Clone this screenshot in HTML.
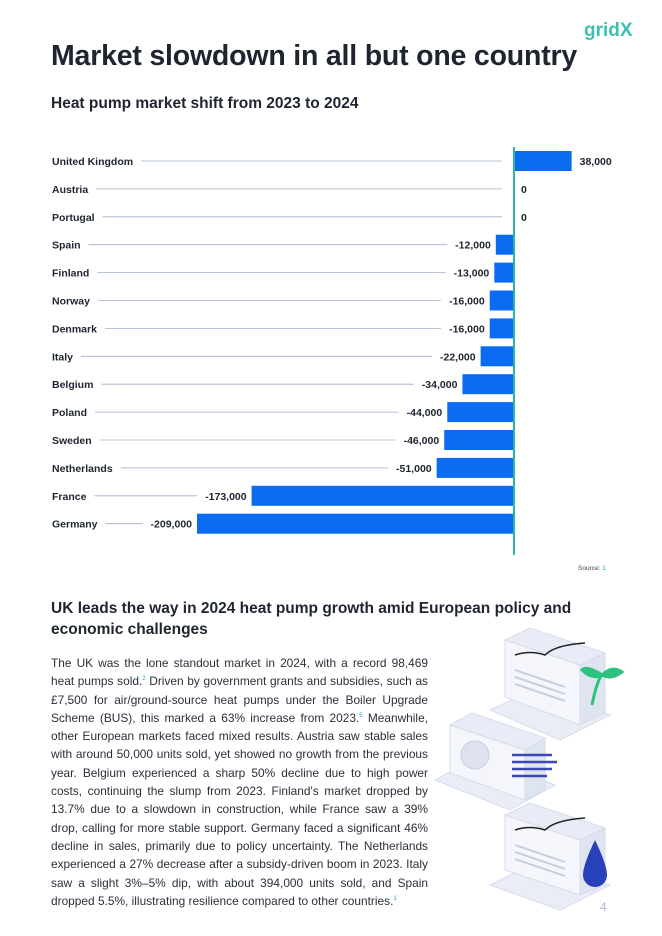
<!DOCTYPE html>
<html><head><meta charset="utf-8">
<style>
body{margin:0;background:#fff;font-family:"Liberation Sans",sans-serif;color:#1e2430}
#page{position:relative;width:662px;height:936px;overflow:hidden;background:#fff}
.logo{position:absolute;left:584px;top:20px;font-size:19px;font-weight:bold;color:#3cc0b0}
h1{position:absolute;left:51px;top:40px;margin:0;font-size:28.5px;font-weight:bold;color:#1e2430;letter-spacing:-0.2px}
h2{position:absolute;left:51px;top:95px;margin:0;font-size:15.5px;font-weight:bold}
h3{position:absolute;left:51px;top:598px;margin:0;font-size:15.5px;font-weight:bold;line-height:21px;width:560px}
.src{position:absolute;left:578px;top:565px;font-size:6.5px;color:#444}
.src b{color:#1a9fd0;font-weight:normal}
p.body{position:absolute;left:51px;top:654px;width:377px;margin:0;font-size:11.9px;line-height:18.3px;text-align:justify;color:#2a2f3a}
sup{font-size:6px;color:#1a9fd0;line-height:0}
.pg{position:absolute;left:600px;top:900px;font-size:12px;color:#aab8d0}
</style></head><body>
<div id="page">
<div class="logo">gridX</div>
<h1>Market slowdown in all but one country</h1>
<h2>Heat pump market shift from 2023 to 2024</h2>
<svg id="chart" width="662" height="570" style="position:absolute;left:0;top:0"></svg>
<div class="src">Source: <b>1</b></div>
<h3>UK leads the way in 2024 heat pump growth amid European policy and economic challenges</h3>
<p class="body">The UK was the lone standout market in 2024, with a record 98,469 heat pumps sold.<sup>2</sup> Driven by government grants and subsidies, such as £7,500 for air/ground-source heat pumps under the Boiler Upgrade Scheme (BUS), this marked a 63% increase from 2023.<sup>5</sup> Meanwhile, other European markets faced mixed results. Austria saw stable sales with around 50,000 units sold, yet showed no growth from the previous year. Belgium experienced a sharp 50% decline due to high power costs, continuing the slump from 2023. Finland's market dropped by 13.7% due to a slowdown in construction, while France saw a 39% drop, calling for more stable support. Germany faced a significant 46% decline in sales, primarily due to policy uncertainty. The Netherlands experienced a 27% decrease after a subsidy-driven boom in 2023. Italy saw a slight 3%–5% dip, with about 394,000 units sold, and Spain dropped 5.5%, illustrating resilience compared to other countries.<sup>1</sup></p>
<svg width="230" height="290" style="position:absolute;left:420px;top:625px" viewBox="0 0 230 290">
<g fill="#e9edf6" stroke="#d6dcea">
<polygon points="70,85 140,115 190,90 120,62"/>
<polygon points="85,15 160,40 160,100 85,72" fill="#f4f6fb"/>
<polygon points="160,40 185,28 185,88 160,100" fill="#dfe4f1"/>
<polygon points="85,15 110,3 185,28 160,40" fill="#e8ecf6"/>
<polygon points="15,155 90,185 135,160 60,130"/>
<polygon points="30,100 105,125 105,175 30,148" fill="#f4f6fb"/>
<polygon points="105,125 125,113 125,165 105,175" fill="#dfe4f1"/>
<polygon points="30,100 52,88 125,113 105,125" fill="#e8ecf6"/>
<polygon points="70,260 140,285 190,260 120,235"/>
<polygon points="85,190 160,215 160,270 85,245" fill="#f4f6fb"/>
<polygon points="160,215 185,203 185,260 160,270" fill="#dfe4f1"/>
<polygon points="85,190 110,178 185,203 160,215" fill="#e8ecf6"/>
</g>
<g stroke="#c8cfe0" stroke-width="2">
<path d="M95,45 l50,17 M95,52 l50,17 M95,59 l50,17"/>
<path d="M95,220 l50,17 M95,227 l50,17 M95,234 l50,17"/>
</g>
<circle cx="55" cy="130" r="14" fill="#dde2ee" stroke="#c8cfe0"/>
<path d="M95,30 q15,-5 30,0 q10,-10 40,-12" stroke="#222" stroke-width="1.5" fill="none"/>
<path d="M95,205 q15,-5 30,0 q10,-10 40,-12" stroke="#222" stroke-width="1.5" fill="none"/>
<path d="M172,80 q5,-25 10,-30 M182,50 q-15,-10 -20,-5 q10,10 20,5 q10,-10 20,-3 q-10,8 -20,3" stroke="#2ec27e" stroke-width="3" fill="#2ec27e"/>
<path d="M92,130 h40 M92,137 h45 M92,144 h40 M92,151 h35" stroke="#3a48b8" stroke-width="2.5" fill="none"/>
<path d="M175,215 q-12,25 -12,35 a12,12 0 0 0 24,0 q0,-10 -12,-35z" fill="#2840b8"/>
</svg>
<div class="pg">4</div>
</div>
<script>
const countries=["United Kingdom","Austria","Portugal","Spain","Finland","Norway","Denmark","Italy","Belgium","Poland","Sweden","Netherlands","France","Germany"];
const changes=[38000,0,0,-12000,-13000,-16000,-16000,-22000,-34000,-44000,-46000,-51000,-173000,-209000];
const labels=["38,000","0","0","-12,000","-13,000","-16,000","-16,000","-22,000","-34,000","-44,000","-46,000","-51,000","-173,000","-209,000"];
const svg=document.getElementById('chart');
const NS='http://www.w3.org/2000/svg';
const x0=514, k=317/209000;
const xs=v=>x0+v*k;
const ys=i=>161+i*27.9;
function mk(t,a){const e=document.createElementNS(NS,t);for(const n in a)e.setAttribute(n,a[n]);svg.appendChild(e);return e;}
countries.forEach((c,i)=>{
 const y=ys(i),v=changes[i];
 const t=mk('text',{x:52,y:y+4,'font-size':'10.5','font-weight':'bold',fill:'#1e2430','font-family':'Liberation Sans, sans-serif'});
 t.textContent=c;
 
 
 const lw=t.getComputedTextLength();
 const bx=Math.min(xs(v),x0);
 const vl=mk('text',{'font-size':'10.5','font-weight':'bold',fill:'#1e2430','font-family':'Liberation Sans, sans-serif'});
 vl.textContent=labels[i];
 
 
 let lineEnd;
 if(v>0){vl.setAttribute('x',xs(v)+8);vl.setAttribute('y',y+4);lineEnd=502;}
 else if(v===0){vl.setAttribute('x',521);vl.setAttribute('y',y+4);lineEnd=502;}
 else{vl.setAttribute('x',bx-5);vl.setAttribute('y',y+4);vl.setAttribute('text-anchor','end');lineEnd=bx-5-vl.getComputedTextLength()-8;}
 const ln=mk('line',{x1:52+lw+8,x2:lineEnd,y1:y,y2:y,stroke:'#9fb0c8','stroke-width':'0.8'});
 
 
 if(v!==0){
  const r=mk('rect',{x:bx,y:y-10,width:Math.abs(xs(v)-x0),height:20,fill:'#0b6cf2'});
  
  
 }
});
const ax=mk('line',{x1:x0,x2:x0,y1:147,y2:555,stroke:'#2ab5a5','stroke-width':'2'});


</script>
</body></html>
